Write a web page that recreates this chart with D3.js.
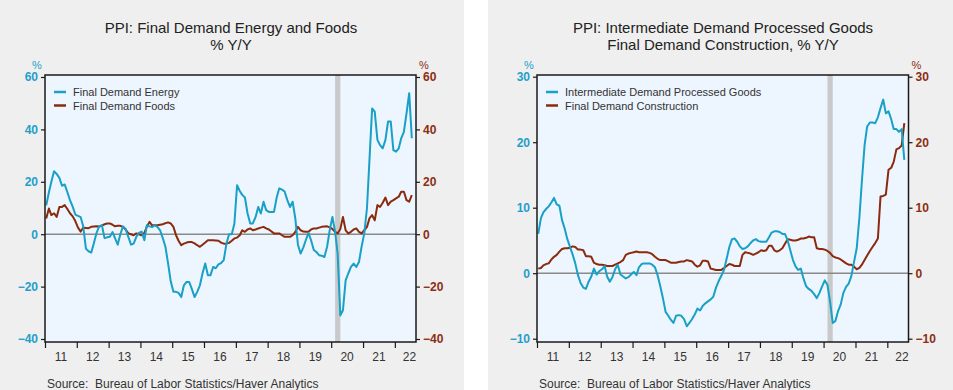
<!DOCTYPE html>
<html>
<head>
<meta charset="utf-8">
<script src="https://cdn.jsdelivr.net/npm/d3@7"></script>
<style>
  html, body { margin: 0; padding: 0; background: #ffffff; }
  svg { display: block; font-family: Arial, "Liberation Sans", sans-serif; }
</style>
</head>
<body>
<svg id="chart" width="953" height="390"></svg>
<script>
// ---- Data (monthly, Jan 2011 – Jul 2022) ----
const startYear = 2011;
const yearTickLabels = ["11","12","13","14","15","16","17","18","19","20","21","22"];
const recession = ["2020-02-15", "2020-04-15"];

const energy = [
  11,16,20,24,23,21.5,18.5,19,16,13,10.5,7.5,
  7,6.5,3,-5.5,-6.5,-7,-3.5,0.5,3,3.5,-1.5,-1.2,
  -1,0.8,-1.5,-4,0,3,2,-1,-4,-3.6,-1,0.5,
  1,-2.3,3.4,3,2.7,3.4,2.8,1.5,-1.5,-4.8,-11.2,-18,
  -22,-22,-22.4,-24,-19.5,-18.2,-18.2,-21,-24,-22,-19.5,-15,
  -11.2,-15.7,-15.7,-12.5,-13,-11.5,-11,-9.9,-3.6,0,0,4,
  18.7,16.5,15,14,8,4.1,4.1,6.5,10.4,7.9,12.4,9.2,
  8.5,8.5,8.5,14,17.5,17,16.3,13,10.4,12.4,6,-4,
  -7.4,-5,-2.3,0.5,-2.3,-6,-6.8,-8,-8.2,-8.7,-4.8,1.5,
  6.6,1,-7.4,-31,-29,-17.6,-15,-12.5,-11.2,-12.5,-10.6,-4.8,
  0.3,10,28,48,46.8,36,34,32.8,36,43,43,32.1,
  31.5,32.8,36.6,39.1,46.1,53.8,36.6
];
const foods = [
  6,9.8,7.3,8,6.6,10.4,10.4,11.1,9.6,8,6.8,5,
  2.5,1,2.5,2.4,2.3,2.8,2.9,3,2.9,3.3,3.8,4.1,
  4.1,3.6,3,3.2,3.2,2.8,1.8,0.3,0,-0.4,0.3,0,
  -0.4,0.5,2.8,4.7,3.4,3.4,3.4,3.6,3.8,4.2,4.5,4.1,
  2.8,-0.5,-2.5,-4.2,-3.6,-3.2,-3,-3,-3.5,-4.2,-4.8,-4,
  -3.2,-2.3,-2.3,-2.3,-2.4,-2.5,-3.2,-3.6,-3.6,-3.3,-2.5,-1.6,
  -1.3,-0.4,1.5,0.9,1.8,2.2,1.5,1.8,2.2,2.5,2.8,2.2,
  1.8,1,0.3,0.3,0.3,-0.4,-1,-1,-1,-0.4,0.9,2.8,
  1.5,1,0.9,0.9,1.8,2.2,2.2,2.5,2.8,2.9,3,2.6,
  2,0.9,0.3,2,6.6,1.5,0.3,0.9,1.8,2.2,0.9,0.3,
  1.5,2.8,6,7.3,5.3,11.1,10.4,12,14,11.1,12.4,13,
  13.7,14.3,16.2,16.2,13,12.4,14.9
];
const processed = [
  6,8.4,9.3,9.8,10.2,10.8,11.5,10.5,10.3,8.1,6.8,5.2,
  4,2.8,1.5,-0.3,-1.5,-2.2,-2.4,-1.3,-0.5,0.7,-0.2,0.3,
  0.6,1.1,-0.5,-1.3,-0.6,0.6,1.3,-0.2,-0.5,-0.8,-0.6,-0.2,
  0.2,-0.3,0.9,1.4,1.5,1.5,1.5,1.3,0.9,-0.3,-2,-3.8,
  -5.9,-6.5,-7.1,-7.6,-6.5,-6.4,-6.5,-7,-8.1,-7.6,-7,-6.3,
  -5.4,-5.7,-5,-4.6,-4.3,-4,-3.6,-2.2,-1.2,-0.4,0.5,2.2,
  4,5.2,5.3,4.8,4.1,3.7,3.8,4.1,4.6,5,5.2,4.9,
  4.8,4.8,4.8,5.5,6.2,6.4,6.4,6.3,6,6,5,3.5,
  2,1,0.5,0.7,-0.8,-2,-2.4,-2.7,-3.2,-3.8,-3,-2,
  -1.1,-1.8,-4.3,-7.6,-7.3,-5.8,-4.8,-3,-2.1,-1.6,-0.4,1.7,
  3.8,8.5,14,19.5,22.4,23,23,22.9,23.8,25.2,26.5,24.4,
  24.7,23.5,22,22,21.6,22,17.3
];
const construction = [
  0.7,0.8,1.2,1.4,1.5,2.1,2.5,2.8,3.3,3.7,3.8,3.8,
  3.9,4.1,4,3.6,3.6,3.5,2.6,2.6,2.5,1.6,1.4,1.3,
  1.3,1.2,1.1,1.1,1.1,1.3,1.5,1.7,2,2.8,3,3.1,
  3.2,3.3,3.2,3.2,3.2,3.2,3.1,2.9,2.5,2.2,2,2,
  2,1.8,1.6,1.6,1.6,1.7,1.8,1.8,2,1.9,1.8,1.3,
  1,1.2,1.9,1.9,1.8,0.7,0.6,0.5,0.5,0.5,0.8,1.1,
  1.4,1.3,1.1,1.1,1.1,2.8,3.2,3.1,3,2.8,3,3.2,
  3.5,3.4,3.5,4.2,4.2,3.5,3.3,3.5,3.8,4.5,5.2,5.1,
  5,5,5.1,5.3,5.3,5.4,5.6,5.5,5.5,3.8,3.7,3.7,
  3.6,3.4,3.1,2.6,2.4,2.3,2.1,1.8,1.5,1.3,1.3,1,
  0.6,0.8,1.3,2,2.7,3.4,4,4.6,5.3,11.7,11.8,12,
  15.8,16.1,17,18.9,19.1,19.5,22.9
];

const leftTicksA = [60,40,20,0,-20,-40];
const rightTicksB = [30,20,10,0,-10];

// ---- Styles ----
const CYAN = "#18a0c7";
const BROWN = "#8b2a0c";
const CYAN_TXT = "#1e9fcb";
const BROWN_TXT = "#8b2e12";

const svg = d3.select("#chart");
svg.append("rect").attr("x",0).attr("y",0).attr("width",464).attr("height",390).attr("fill","#efefef");
svg.append("rect").attr("x",488).attr("y",0).attr("width",465).attr("height",390).attr("fill","#efefef");

const monthDate = i => new Date(startYear + Math.floor(i/12), i % 12, 15);
const parse = d3.timeParse("%Y-%m-%d");

function drawChart(cfg) {
  const g = svg.append("g");
  const x = d3.scaleTime()
    .domain([new Date(2011,0,1), new Date(2022,8,1)])
    .range([cfg.x0, cfg.x1]);
  const y = d3.scaleLinear().domain(cfg.domain).range(cfg.yRange);

  const clipId = "clip" + cfg.id;
  svg.append("clipPath").attr("id", clipId).append("rect")
    .attr("x", cfg.x0).attr("y", cfg.top).attr("width", cfg.x1 - cfg.x0).attr("height", cfg.bottom - cfg.top);

  // plot background
  g.append("rect").attr("x", cfg.x0).attr("y", cfg.top)
    .attr("width", cfg.x1 - cfg.x0).attr("height", cfg.bottom - cfg.top)
    .attr("fill", "#edf5fe");

  // recession band
  g.append("rect")
    .attr("x", x(parse(recession[0]))).attr("y", cfg.top)
    .attr("width", x(parse(recession[1])) - x(parse(recession[0])))
    .attr("height", cfg.bottom - cfg.top)
    .attr("fill", "#c9c9c9");

  // zero line
  g.append("line").attr("x1", cfg.x0).attr("x2", cfg.x1)
    .attr("y1", y(0)).attr("y2", y(0))
    .attr("stroke", "#8a8a8a").attr("stroke-width", 1.5);

  // series
  const line = d3.line().x((d,i) => x(monthDate(i))).y(d => y(d));
  const lg = g.append("g").attr("clip-path", `url(#${clipId})`);
  lg.append("path").datum(cfg.s2).attr("d", line)
    .attr("fill","none").attr("stroke", BROWN).attr("stroke-width", 2).attr("stroke-linejoin","round");
  lg.append("path").datum(cfg.s1).attr("d", line)
    .attr("fill","none").attr("stroke", CYAN).attr("stroke-width", 2).attr("stroke-linejoin","round");

  // frame
  g.append("rect").attr("x", cfg.x0).attr("y", cfg.top)
    .attr("width", cfg.x1 - cfg.x0).attr("height", cfg.bottom - cfg.top)
    .attr("fill", "none").attr("stroke", "#1a1a1a").attr("stroke-width", 1.5);

  // left axis
  const la = g.append("g").attr("transform", `translate(${cfg.x0},0)`)
    .call(d3.axisLeft(y).tickValues(cfg.ticks).tickSize(4).tickPadding(3).tickFormat(d3.format("d")));
  la.select(".domain").remove();
  la.selectAll("line").attr("stroke", "#1a1a1a").attr("stroke-width", 1.2);
  la.selectAll("text").attr("fill", CYAN_TXT).attr("font-size", 12).attr("font-weight", "bold")
    .attr("font-family", "Arial, 'Liberation Sans', sans-serif");

  // right axis
  const ra = g.append("g").attr("transform", `translate(${cfg.x1},0)`)
    .call(d3.axisRight(y).tickValues(cfg.ticks).tickSize(4).tickPadding(3).tickFormat(d3.format("d")));
  ra.select(".domain").remove();
  ra.selectAll("line").attr("stroke", "#1a1a1a").attr("stroke-width", 1.2);
  ra.selectAll("text").attr("fill", BROWN_TXT).attr("font-size", 12).attr("font-weight", "bold")
    .attr("font-family", "Arial, 'Liberation Sans', sans-serif");

  // x axis: ticks at year starts, labels centred in each year
  const years = d3.range(2011, 2023).map(yr => new Date(yr, 0, 1));
  const xa = g.append("g").attr("transform", `translate(0,${cfg.bottom})`)
    .call(d3.axisBottom(x).tickValues(years).tickSize(6).tickFormat(""));
  xa.select(".domain").remove();
  xa.selectAll("line").attr("stroke", "#1a1a1a").attr("stroke-width", 1.2);
  g.append("g").selectAll("text").data(years).join("text")
    .attr("x", (d,i) => {
      const a = x(d);
      const b = Math.min(x(new Date(d.getFullYear()+1,0,1)), cfg.x1 + 8);
      return (a + b) / 2;
    })
    .attr("y", cfg.bottom + 19)
    .attr("text-anchor", "middle").attr("font-size", 12).attr("fill", "#333")
    .text((d,i) => yearTickLabels[i]);

  // % labels
  g.append("text").attr("x", cfg.x0 - 8).attr("y", 69).attr("text-anchor","middle")
    .attr("font-size", 11).attr("fill", CYAN_TXT).text("%");
  g.append("text").attr("x", cfg.x1 + 8).attr("y", 69).attr("text-anchor","middle")
    .attr("font-size", 11).attr("fill", BROWN_TXT).text("%");

  // title
  cfg.title.forEach((t, i) => {
    g.append("text").attr("x", cfg.titleX).attr("y", 33 + i*17).attr("text-anchor","middle")
      .attr("font-size", 15).attr("fill", "#222").text(t);
  });

  // legend
  cfg.legend.forEach((t, i) => {
    const ly = 92 + i*13.5;
    g.append("line").attr("x1", cfg.x0 + 9).attr("x2", cfg.x0 + 21).attr("y1", ly).attr("y2", ly)
      .attr("stroke", i === 0 ? CYAN : BROWN).attr("stroke-width", 2.5);
    g.append("text").attr("x", cfg.x0 + 28).attr("y", ly + 4).attr("font-size", 11)
      .attr("fill", "#333").text(t);
  });

  // source
  g.append("text").attr("x", cfg.x0 + 2).attr("y", 388).attr("font-size", 12).attr("fill", "#333")
    .attr("xml:space","preserve").style("white-space","pre")
    .text("Source:  Bureau of Labor Statistics/Haver Analytics");
}

drawChart({
  id: "L", x0: 45, x1: 416, top: 75, bottom: 342,
  domain: [-40, 60], yRange: [339, 77], ticks: leftTicksA,
  s1: energy, s2: foods,
  title: ["PPI: Final Demand Energy and Foods", "% Y/Y"], titleX: 231,
  legend: ["Final Demand Energy", "Final Demand Foods"]
});
drawChart({
  id: "R", x0: 537, x1: 908.5, top: 75, bottom: 342,
  domain: [-10, 30], yRange: [338.7, 76.7], ticks: rightTicksB,
  s1: processed, s2: construction,
  title: ["PPI: Intermediate Demand Processed Goods", "Final Demand Construction, % Y/Y"], titleX: 723,
  legend: ["Intermediate Demand Processed Goods", "Final Demand Construction"]
});
</script>
</body>
</html>
